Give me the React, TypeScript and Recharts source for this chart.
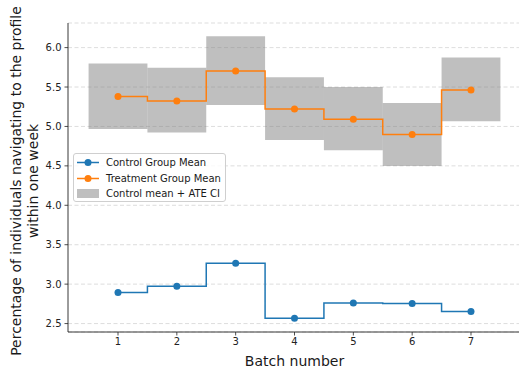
import React from 'react'
import {
  ComposedChart,
  Line,
  XAxis,
  YAxis,
  CartesianGrid,
  ReferenceArea,
  Legend,
} from 'recharts'

// values
const batches = [1, 2, 3, 4, 5, 6, 7]
const controlMean = [2.893, 2.973, 3.265, 2.568, 2.762, 2.754, 2.652]
const treatmentMean = [5.379, 5.323, 5.703, 5.222, 5.091, 4.897, 5.462]
const ciLow = [4.968, 4.922, 5.272, 4.828, 4.698, 4.499, 5.065]
const ciHigh = [5.797, 5.746, 6.143, 5.623, 5.5, 5.297, 5.873]
const xTicks = [1, 2, 3, 4, 5, 6, 7]
const yTicks = [2.5, 3.0, 3.5, 4.0, 4.5, 5.0, 5.5, 6.0]

const legendNames = ['Control Group Mean', 'Treatment Group Mean', 'Control mean + ATE CI']

const BLUE = '#1f77b4'
const ORANGE = '#ff7f0e'
const FONT = '"DejaVu Sans", sans-serif'

const data = batches.map((b, i) => ({
  batch: b,
  control: controlMean[i],
  treatment: treatmentMean[i],
}))

const renderLegend = () => (
  <div
    style={{
      width: 151,
      height: 47,
      border: '1px solid #cfcfcf',
      borderRadius: 3,
      background: 'rgba(255,255,255,0.8)',
      fontFamily: FONT,
      fontSize: 10,
      color: '#1a1a1a',
      position: 'relative',
    }}
  >
    {legendNames.map((name, i) => (
      <div
        key={name}
        style={{ position: 'absolute', left: 0, top: 1 + i * 15.5, height: 15, display: 'flex', alignItems: 'center' }}
      >
        <svg width={32} height={15} style={{ display: 'block' }}>
          {i < 2 ? (
            <>
              <line x1={3} x2={25} y1={7.5} y2={7.5} stroke={i === 0 ? BLUE : ORANGE} strokeWidth={1.5} />
              <circle cx={14} cy={7.5} r={3.5} fill={i === 0 ? BLUE : ORANGE} />
            </>
          ) : (
            <rect x={3} y={3} width={22} height={9} fill="#808080" fillOpacity={0.5} />
          )}
        </svg>
        <span style={{ whiteSpace: 'nowrap' }}>{name}</span>
      </div>
    ))}
  </div>
)

const YLabel = () => (
  <g fontFamily={FONT} fontSize={14} fill="#1a1a1a" textAnchor="middle">
    <text x={21} y={181} transform="rotate(-90, 21, 181)">
      Percentage of individuals navigating to the profile
    </text>
    <text x={38} y={181} transform="rotate(-90, 38, 181)">
      within one week
    </text>
  </g>
)

const XLabel = (props: any) => {
  const vb = props.viewBox || { x: 68, width: 453 }
  return (
    <text x={vb.x + vb.width / 2} y={366} textAnchor="middle" fontFamily={FONT} fontSize={14} fill="#1a1a1a">
      Batch number
    </text>
  )
}

export default function App() {
  return (
    <div style={{ position: 'absolute', left: 0, top: 0, width: 519, height: 372, overflow: 'hidden', background: '#fff' }}>
      <ComposedChart width={540} height={372} data={data} margin={{ top: 23, right: 19, bottom: 0, left: 0 }}>
        <CartesianGrid vertical={false} stroke="#d4d4d4" strokeDasharray="4 2.5" strokeWidth={0.8} />
        <XAxis
          dataKey="batch"
          type="number"
          domain={[0.15, 7.85]}
          ticks={xTicks}
          allowDataOverflow
          height={40}
          tickSize={3.5}
          tickMargin={2}
          tick={{ fill: '#222', fontSize: 10, fontFamily: FONT }}
          tickLine={{ stroke: '#222', strokeWidth: 0.8 }}
          axisLine={{ stroke: '#222', strokeWidth: 0.9 }}
          label={<XLabel />}
        />
        <XAxis
          xAxisId="top"
          orientation="top"
          type="number"
          domain={[0.15, 7.85]}
          height={0}
          tick={false}
          tickLine={false}
          axisLine={{ stroke: '#222', strokeWidth: 0.9 }}
        />
        <YAxis
          type="number"
          domain={[2.393, 6.312]}
          ticks={yTicks}
          allowDataOverflow
          width={68}
          tickSize={3.5}
          tickMargin={3}
          tickFormatter={(v: number) => v.toFixed(1)}
          tick={{ fill: '#222', fontSize: 10, fontFamily: FONT }}
          tickLine={{ stroke: '#222', strokeWidth: 0.8 }}
          axisLine={{ stroke: '#222', strokeWidth: 0.9 }}
          label={<YLabel />}
        />
        {batches.map((b, i) => (
          <ReferenceArea
            key={b}
            x1={b - 0.5}
            x2={b + 0.5}
            y1={ciLow[i]}
            y2={ciHigh[i]}
            fill="#808080"
            fillOpacity={0.5}
            stroke="none"
            ifOverflow="visible"
          />
        ))}
        <Line
          type="step"
          dataKey="control"
          stroke={BLUE}
          strokeWidth={1.5}
          dot={{ r: 3.5, fill: BLUE, stroke: BLUE, strokeWidth: 0 }}
          activeDot={false}
          isAnimationActive={false}
        />
        <Line
          type="step"
          dataKey="treatment"
          stroke={ORANGE}
          strokeWidth={1.5}
          dot={{ r: 3.5, fill: ORANGE, stroke: ORANGE, strokeWidth: 0 }}
          activeDot={false}
          isAnimationActive={false}
        />
        <Legend
          content={renderLegend}
          layout="vertical"
          align="center"
          verticalAlign="middle"
          wrapperStyle={{ left: 73, top: 153, width: 153 }}
        />
      </ComposedChart>
    </div>
  )
}
